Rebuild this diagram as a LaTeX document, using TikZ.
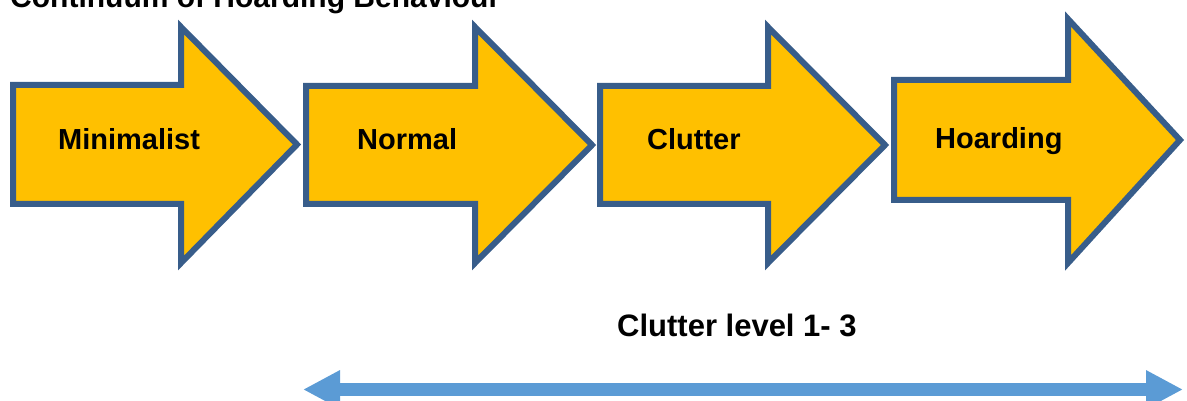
\documentclass[tikz,border=0pt]{standalone}
\usepackage{fontspec}
\setmainfont{Liberation Sans}
\usepackage{xcolor}
\usetikzlibrary{arrows.meta,calc}
\definecolor{arrowfill}{HTML}{FFC000}
\definecolor{arrowline}{HTML}{385D8A}
\definecolor{spanblue}{HTML}{5B9BD5}

\begin{document}
\begin{tikzpicture}[x=1pt, y=-1pt,
    stage/.style={draw=arrowline, fill=arrowfill, line width=6pt, line join=miter},
    label/.style={inner sep=0pt, font=\bfseries\fontsize{29}{34}\selectfont},
    heading/.style={inner sep=0pt, font=\bfseries\fontsize{30}{36}\selectfont},
    span/.style={draw=spanblue, line width=13pt,
        {Triangle[length=37pt, width=36pt]}-{Triangle[length=37pt, width=36pt]}}]

    \useasboundingbox (0,0) rectangle (1187,401);

    % Block arrows: left, body top, body bottom, head top, head bottom, head base, tip
    \foreach \l/\bt/\bb/\ht/\hb/\hx/\tx in {
        13/85/204/27/263/181/297,
        306/86/204/27/263/475/592,
        600/86/204/27/263/768/885,
        894/80/200/19/263/1068/1180} {
        \draw[stage] (\l,\bt) -- (\hx,\bt) -- (\hx,\ht) -- (\tx,{(\bt+\bb)/2})
            -- (\hx,\hb) -- (\hx,\bb) -- (\l,\bb) -- cycle;
    }

    % Nodes
    \node[heading, anchor=base west] (title) at (10,8) {Continuum of Hoarding Behaviour};
    \node[label, anchor=base west] (mini) at (58,150) {Minimalist};
    \node[label, anchor=base west] (norm) at (357,150) {Normal};
    \node[label, anchor=base west] (clut) at (647,150) {Clutter};
    \node[label, anchor=base west] (hoard) at (935,149) {Hoarding};
    \node[label, anchor=base west, font=\bfseries\fontsize{31}{36}\selectfont] (level) at (617,336) {Clutter level 1- 3};

    % Range of clutter levels
    \coordinate (lo) at (303,389.5);
    \coordinate (hi) at (1183,389.5);
    \draw[span] (lo) -- (hi);

\end{tikzpicture}
\end{document}
